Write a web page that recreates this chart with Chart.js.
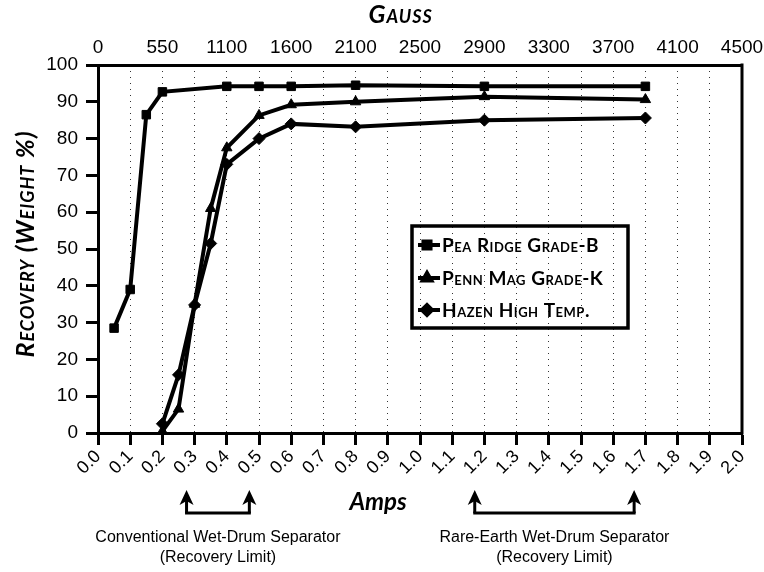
<!DOCTYPE html>
<html>
<head>
<meta charset="utf-8">
<script src="https://cdn.jsdelivr.net/npm/chart.js@4"></script>
<style>
  html, body { margin: 0; padding: 0; background: #fff; }
  #wrap { width: 764px; height: 572px; }
</style>
</head>
<body>
<div id="wrap"><canvas id="chart" width="764" height="572"></canvas></div>
<script>
// Magnetic recovery of three magnetite grades versus separator current
const peaRidgeAmps     = [0.05, 0.1, 0.15, 0.2, 0.4, 0.5, 0.6, 0.8, 1.2, 1.7];
const peaRidgeRecovery = [28.5, 39, 86.5, 92.7, 94.2, 94.2, 94.2, 94.5, 94.2, 94.2];
const pennMagAmps      = [0.2, 0.25, 0.3, 0.35, 0.4, 0.5, 0.6, 0.8, 1.2, 1.7];
const pennMagRecovery  = [0.5, 6.5, 35, 61, 77.5, 86.3, 89.2, 90, 91.4, 90.6];
const hazenAmps        = [0.2, 0.25, 0.3, 0.35, 0.4, 0.5, 0.6, 0.8, 1.2, 1.7];
const hazenRecovery    = [2.5, 15.8, 34.8, 51.5, 73, 80, 84, 83.2, 85, 85.6];

const seriesNames = ['Pea Ridge Grade-B', 'Penn Mag Grade-K', 'Hazen High Temp.'];
const seriesMarkers = ['rect', 'triangle', 'rectRot'];

// Field strength equivalent to each 0.2 A step of the top axis
const gaussLabels = ['0', '550', '1100', '1600', '2100', '2500', '2900', '3300', '3700', '4100', '4500'];

// Operating ranges (in amps) of the two drum separator types
const separatorLimits = [
  { from: 0.275, to: 0.47,  lines: ['Conventional Wet-Drum Separator', '(Recovery Limit)'] },
  { from: 1.17,  to: 1.665, lines: ['Rare-Earth Wet-Drum Separator', '(Recovery Limit)'] }
];

const TITLE_FAMILY = 'Lato, "DejaVu Sans", sans-serif';
const TICK_FAMILY = '"Liberation Sans", Arial, sans-serif';

function toPoints(xs, ys) {
  return xs.map((x, i) => ({ x: x, y: ys[i] }));
}

function series(i, xs, ys) {
  return {
    label: seriesNames[i],
    data: toPoints(xs, ys),
    borderColor: '#000',
    backgroundColor: '#000',
    borderWidth: 4,
    pointStyle: seriesMarkers[i],
    pointRadius: 6,
    pointBorderWidth: 1,
    tension: 0
  };
}

function setFont(ctx, font, caps, spacing) {
  ctx.font = font;
  try { ctx.fontVariantCaps = caps ? 'small-caps' : 'normal'; } catch (e) {}
  try { ctx.letterSpacing = spacing || '0px'; } catch (e) {}
}

function upArrow(ctx, x, tipY, baseY) {
  ctx.beginPath();
  ctx.moveTo(x, baseY);
  ctx.lineTo(x, tipY + 10);
  ctx.stroke();
  ctx.beginPath();
  ctx.moveTo(x, tipY);
  ctx.lineTo(x - 7, tipY + 15);
  ctx.lineTo(x, tipY + 11);
  ctx.lineTo(x + 7, tipY + 15);
  ctx.closePath();
  ctx.fill();
}

const decorations = {
  id: 'decorations',
  afterDatasetsDraw(chart) {
    const ctx = chart.ctx;
    const ca = chart.chartArea;

    // Right-hand frame line
    ctx.save();
    ctx.strokeStyle = '#000';
    ctx.lineWidth = 3;
    ctx.beginPath();
    ctx.moveTo(ca.right, ca.top - 1.5);
    ctx.lineTo(ca.right, ca.bottom + 1.5);
    ctx.stroke();
    ctx.restore();

    // Boxed legend inside the plot
    const bx = ca.left + 314, by = ca.top + 161, bw = 216, bh = 102;
    ctx.save();
    ctx.strokeStyle = '#000';
    ctx.lineWidth = 3.5;
    ctx.strokeRect(bx, by, bw, bh);
    const rows = [by + 19, by + 52, by + 84];
    chart.data.datasets.forEach((ds, i) => {
      const y = rows[i];
      ctx.strokeStyle = '#000';
      ctx.fillStyle = '#000';
      ctx.lineWidth = 4;
      ctx.beginPath();
      ctx.moveTo(bx + 6, y);
      ctx.lineTo(bx + 28, y);
      ctx.stroke();
      Chart.helpers.drawPoint(ctx, { pointStyle: ds.pointStyle, radius: 5, borderWidth: 1 }, bx + 15, y);
      ctx.fill();
      setFont(ctx, 'small-caps 700 19px ' + TITLE_FAMILY, true, '0.5px');
      ctx.textAlign = 'left';
      ctx.textBaseline = 'middle';
      ctx.fillText(ds.label, bx + 30, y + 1);
    });
    ctx.restore();
  },
  afterDraw(chart) {
    const ctx = chart.ctx;
    const ca = chart.chartArea;
    const xs = chart.scales.x;

    ctx.save();
    ctx.fillStyle = '#000';
    ctx.strokeStyle = '#000';

    // Axis titles
    setFont(ctx, 'italic small-caps 700 25px ' + TITLE_FAMILY, true, '1px');
    ctx.textAlign = 'center';
    ctx.textBaseline = 'middle';
    ctx.fillText('Gauss', xs.getPixelForValue(0.94), 15);

    ctx.save();
    ctx.translate(26, (ca.top + ca.bottom) / 2 - 5);
    ctx.rotate(-Math.PI / 2);
    ctx.fillText('Recovery (Weight %)', 0, 0);
    ctx.restore();

    setFont(ctx, 'italic 700 24px ' + TITLE_FAMILY, false);
    ctx.fillText('Amps', xs.getPixelForValue(0.87), ca.bottom + 69);

    // Separator range brackets with captions
    ctx.lineWidth = 3;
    separatorLimits.forEach(r => {
      const x1 = xs.getPixelForValue(r.from);
      const x2 = xs.getPixelForValue(r.to);
      const lineY = ca.bottom + 80;
      const tipY = ca.bottom + 57;
      ctx.beginPath();
      ctx.moveTo(x1 - 1.5, lineY);
      ctx.lineTo(x2 + 1.5, lineY);
      ctx.stroke();
      upArrow(ctx, x1, tipY, lineY);
      upArrow(ctx, x2, tipY, lineY);
      setFont(ctx, '16px ' + TICK_FAMILY, false);
      const cx = (x1 + x2) / 2;
      ctx.fillText(r.lines[0], cx, ca.bottom + 105);
      ctx.fillText(r.lines[1], cx, ca.bottom + 125);
    });
    ctx.restore();
  }
};

new Chart(document.getElementById('chart'), {
  type: 'line',
  data: {
    datasets: [
      series(0, peaRidgeAmps, peaRidgeRecovery),
      series(1, pennMagAmps, pennMagRecovery),
      series(2, hazenAmps, hazenRecovery)
    ]
  },
  options: {
    responsive: false,
    animation: false,
    layout: { padding: { left: 0, right: 22, top: 0, bottom: 0 } },
    plugins: { legend: { display: false }, tooltip: { enabled: false } },
    scales: {
      x: {
        type: 'linear',
        position: 'bottom',
        min: 0,
        max: 2,
        afterFit(s) { s.height = 139; },
        ticks: {
          stepSize: 0.1,
          autoSkip: false,
          minRotation: 45,
          maxRotation: 45,
          color: '#000',
          padding: 1,
          font: { family: TICK_FAMILY, size: 18 },
          callback: v => Number(v).toFixed(1)
        },
        grid: {
          display: true,
          drawOnChartArea: true,
          color: '#333',
          lineWidth: 1,
          tickLength: 12,
          tickWidth: 3,
          tickColor: '#000',
          tickBorderDash: []
        },
        border: { display: true, color: '#000', width: 3, dash: [1, 5] }
      },
      x2: {
        type: 'linear',
        position: 'top',
        min: 0,
        max: 2,
        afterFit(s) { s.height = 65; },
        ticks: {
          stepSize: 0.2,
          autoSkip: false,
          maxRotation: 0,
          color: '#000',
          padding: -2,
          font: { family: TICK_FAMILY, size: 19 },
          callback: (v, i) => gaussLabels[i]
        },
        grid: { display: false },
        border: { display: true, color: '#000', width: 3 }
      },
      y: {
        min: 0,
        max: 100,
        afterFit(s) { s.width = 98; },
        ticks: {
          stepSize: 10,
          color: '#000',
          padding: 8,
          font: { family: TICK_FAMILY, size: 19 }
        },
        grid: {
          drawOnChartArea: false,
          tickLength: 12,
          tickWidth: 3,
          tickColor: '#000'
        },
        border: { display: true, color: '#000', width: 3 }
      }
    }
  },
  plugins: [decorations]
});
</script>
</body>
</html>
